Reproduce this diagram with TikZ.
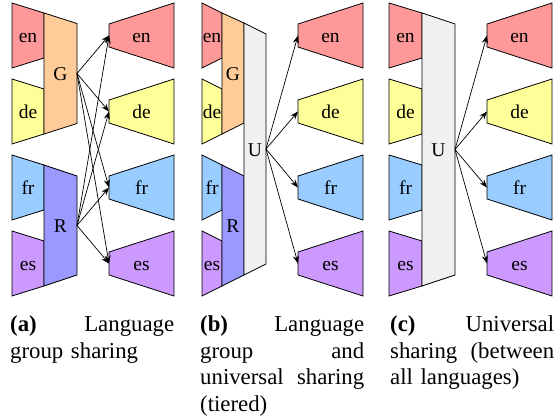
\documentclass[tikz,border=0pt]{standalone}
\usepackage{fontspec}
\setmainfont{Liberation Serif}
\usetikzlibrary{arrows.meta}

\definecolor{enred}{HTML}{FF9999}
\definecolor{deyellow}{HTML}{FFFF99}
\definecolor{frblue}{HTML}{99CCFF}
\definecolor{espurple}{HTML}{CC99FF}
\definecolor{gorange}{HTML}{FFCC99}
\definecolor{rviolet}{HTML}{9999FF}
\definecolor{ugray}{HTML}{F0F0F0}

\tikzset{
  slab/.style={draw, line width=0.8pt, line join=miter},
  lbl/.style={anchor=base, inner sep=0pt, font=\fontsize{19.5}{23}\selectfont},
  arrow/.style={-{Stealth[length=8pt, width=6pt]}, line width=0.7pt},
  caption/.style={anchor=base west, inner sep=0pt, text width=164pt, align=left,
                  font=\fontsize{22.8}{26.5}\selectfont},
}

% #1 name, #2 fill, #3/#4 left/right x, #5/#6 left edge top/bottom,
% #7/#8 right edge top/bottom, #9 text
\newcommand{\slab}[9]{%
  \filldraw[slab, fill=#2] (#3,#5) -- (#4,#7) -- (#4,#8) -- (#3,#6) -- cycle;
  \node[lbl] (#1) at ({(#3+#4)/2},{(#5+#6+#7+#8)/4+7.5}) {#9};
  \coordinate (#1-in)  at (#3,{(#5+#6)/2});
  \coordinate (#1-out) at (#4,{(#7+#8)/2});
}
% encoder at left x #1, right x #2, row centre #3
\newcommand{\enc}[6]{\slab{#4}{#5}{#1}{#2}{#3-32.5}{#3+32.5}{#3-22.5}{#3+22.5}{#6}}
% decoder at left x #1, right x #2, row centre #3
\newcommand{\dec}[6]{\slab{#4}{#5}{#1}{#2}{#3-11.5}{#3+11.5}{#3-32.5}{#3+32.5}{#6}}

\begin{document}
\begin{tikzpicture}[x=1pt, y=-1pt]
  \useasboundingbox (0,0) rectangle (555,419);

  % (a) group encoders
  \enc{12}{44}{35.5}{aen}{enred}{en}
  \enc{12}{44}{111.5}{ade}{deyellow}{de}
  \enc{12}{44}{187.5}{afr}{frblue}{fr}
  \enc{12}{44}{263.5}{aes}{espurple}{es}
  \slab{aG}{gorange}{44}{77}{13}{134}{23.5}{123.5}{G}
  \slab{aR}{rviolet}{44}{77}{165}{286}{176}{275}{R}
  \dec{109}{174}{35.5}{aoen}{enred}{en}
  \dec{109}{174}{111.5}{aode}{deyellow}{de}
  \dec{109}{174}{187.5}{aofr}{frblue}{fr}
  \dec{109}{174}{263.5}{aoes}{espurple}{es}
  \foreach \src in {aG, aR}
    \foreach \dst in {aoen, aode, aofr, aoes}
      \draw[arrow] (\src-out) -- (\dst-in);

  % (b) tiered
  \enc{202}{222}{35.5}{ben}{enred}{en}
  \enc{202}{222}{111.5}{bde}{deyellow}{de}
  \enc{202}{222}{187.5}{bfr}{frblue}{fr}
  \enc{202}{222}{263.5}{bes}{espurple}{es}
  \slab{bG}{gorange}{222}{244}{13}{134}{23}{123}{G}
  \slab{bR}{rviolet}{222}{244}{165}{286}{176}{275}{R}
  \slab{bU}{ugray}{244}{266}{23}{275}{34}{264}{U}
  \dec{298}{363}{35.5}{boen}{enred}{en}
  \dec{298}{363}{111.5}{bode}{deyellow}{de}
  \dec{298}{363}{187.5}{bofr}{frblue}{fr}
  \dec{298}{363}{263.5}{boes}{espurple}{es}
  \foreach \dst in {boen, bode, bofr, boes}
    \draw[arrow] (bU-out) -- (\dst-in);

  % (c) universal
  \enc{389}{422}{35.5}{cen}{enred}{en}
  \enc{389}{422}{111.5}{cde}{deyellow}{de}
  \enc{389}{422}{187.5}{cfr}{frblue}{fr}
  \enc{389}{422}{263.5}{ces}{espurple}{es}
  \slab{cU}{ugray}{422}{455}{13}{286}{24}{275}{U}
  \dec{487}{552}{35.5}{coen}{enred}{en}
  \dec{487}{552}{111.5}{code}{deyellow}{de}
  \dec{487}{552}{187.5}{cofr}{frblue}{fr}
  \dec{487}{552}{263.5}{coes}{espurple}{es}
  \foreach \dst in {coen, code, cofr, coes}
    \draw[arrow] (cU-out) -- (\dst-in);

  % captions
  \node[caption] (capa) at (10,332)
    {\textbf{(a)}\hfill Language\\ group sharing};
  \node[caption] (capb) at (200,332)
    {\textbf{(b)}\hfill Language\\ group\hfill and\\ universal\hfill sharing\\ (tiered)};
  \node[caption] (capc) at (390,332)
    {\textbf{(c)}\hfill Universal\\ sharing\hfill (between\\ all languages)};
\end{tikzpicture}
\end{document}
